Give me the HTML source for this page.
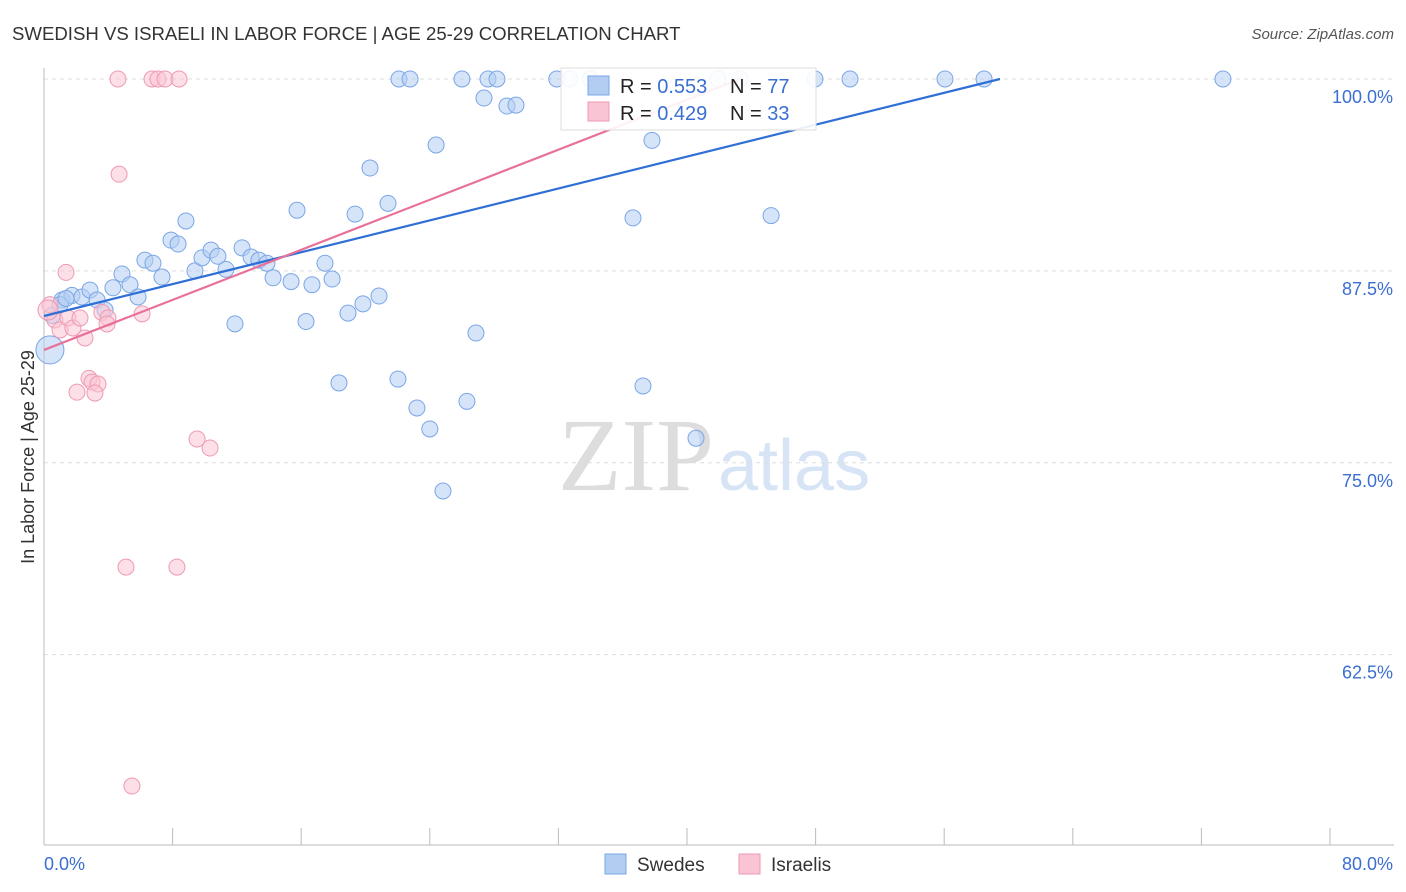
<!DOCTYPE html>
<html><head><meta charset="utf-8"><style>
body{margin:0;background:#fff;font-family:"Liberation Sans",sans-serif;}
svg{display:block}
</style></head><body>
<svg id="c" width="1406" height="892">
<text x="12" y="40" font-size="18.6" fill="#333">SWEDISH VS ISRAELI IN LABOR FORCE | AGE 25-29 CORRELATION CHART</text>
<text x="1394" y="39" font-size="15" fill="#555" font-style="italic" text-anchor="end">Source: ZipAtlas.com</text>
<text x="714" y="490" font-size="104" fill="#ddd" text-anchor="end" font-family="Liberation Serif,serif">ZIP</text>
<text x="718" y="490" font-size="72" fill="#d6e4f5">atlas</text>
<text transform="translate(34,457) rotate(-90)" font-size="18" fill="#333" text-anchor="middle">In Labor Force | Age 25-29</text>
<g id="grid"></g><g id="pts"></g><g id="lines"></g>
<g>
<rect x="561" y="68" width="255" height="62" fill="#fff" fill-opacity="0.9" stroke="#ddd"/>
<rect x="588" y="76" width="21" height="19" fill="#b3cdf2" stroke="#7aa6e6"/>
<rect x="588" y="102" width="21" height="19" fill="#f9c4d3" stroke="#ee9ab3"/>
<text x="620" y="93" font-size="20" fill="#222">R = <tspan fill="#3a6fd1">0.553</tspan></text>
<text x="730" y="93" font-size="20" fill="#222">N = <tspan fill="#3a6fd1">77</tspan></text>
<text x="620" y="120" font-size="20" fill="#222">R = <tspan fill="#3a6fd1">0.429</tspan></text>
<text x="730" y="120" font-size="20" fill="#222">N = <tspan fill="#3a6fd1">33</tspan></text>
</g>
<g>
<rect x="605" y="854" width="21" height="20" fill="#b3cdf2" stroke="#7aa6e6"/>
<text x="637" y="871" font-size="19" fill="#333">Swedes</text>
<rect x="739" y="854" width="21" height="20" fill="#f9c4d3" stroke="#ee9ab3"/>
<text x="771" y="871" font-size="19" fill="#333">Israelis</text>
</g>
</svg>
<script>
const yTicks=[100,87.5,75,62.5];
const yTickLabels=["100.0%","87.5%","75.0%","62.5%"];
const xTickLabels=["0.0%","80.0%"];
const swedesX=[0.37,0.5,1.12,1.74,2.36,2.86,3.3,3.8,4.29,4.85,5.35,5.85,6.28,6.78,7.34,7.9,8.34,8.83,9.39,9.83,10.39,10.82,11.32,11.88,12.32,12.88,13.37,13.87,14.25,15.37,15.74,16.3,16.67,17.48,17.92,18.35,18.91,19.35,19.84,20.28,20.84,21.4,22.02,22.08,22.77,23.2,24.0,24.39,24.82,26.0,26.31,26.87,27.37,27.62,28.18,28.8,29.36,31.9,32.7,33.97,36.64,37.26,37.82,40.56,41.93,43.3,45.23,47.96,50.14,56.05,58.48,73.34,1.0,1.37];
const swedesY=[82.35,84.6,85.6,85.9,85.8,86.25,85.6,84.95,86.4,87.3,86.6,85.8,88.2,88.0,87.1,89.5,89.25,90.75,87.5,88.35,88.85,88.45,87.6,84.05,89.0,88.4,88.2,88.0,87.05,86.8,91.45,84.2,86.6,88.0,86.97,80.2,84.75,91.2,85.35,94.2,85.86,91.9,80.45,100,100,78.57,77.2,95.7,73.16,100,79.0,83.45,98.76,100,100,98.24,98.3,100,100,100,90.95,80.0,96.0,76.6,100,100,91.1,100,100,100,100,100,85.3,85.7];
const israelisX=[4.6,6.72,7.09,7.53,8.4,4.67,1.37,0.37,0.68,1.0,1.49,1.8,2.24,2.55,3.6,3.98,3.92,6.1,2.05,2.8,2.99,3.36,3.17,9.52,10.33,5.1,8.27,5.47,0.25];
const israelisY=[100,100,100,100,100,93.8,87.4,85.3,84.3,83.65,84.43,83.78,84.43,83.13,84.8,84.43,84.04,84.7,79.6,80.5,80.26,80.13,79.54,76.55,75.96,68.2,68.2,53.94,84.95];
const trendIntercepts=[84.56,82.35];
const trendEnds=[59.47,43.3];
const NS='http://www.w3.org/2000/svg';
const X=v=>44+v*16.075, Y=v=>79+(100-v)*15.35;
function mk(t,a,p){const e=document.createElementNS(NS,t);for(const k in a)e.setAttribute(k,a[k]);p.appendChild(e);return e;}
const grid=document.getElementById('grid');
yTicks.forEach((t,i)=>{
 const l=mk('line',{x1:44,x2:1394,y1:Y(t),y2:Y(t),stroke:'#ddd','stroke-dasharray':'4,4'},grid);
 
 
 const tx=mk('text',{x:1393,y:Y(t)+24,'font-size':18,fill:'#3a6fd1','text-anchor':'end'},grid);tx.textContent=yTickLabels[i];
 
 
});
const ax=mk('line',{x1:44,x2:44,y1:68,y2:845,stroke:'#bbb'},grid);


const bx=mk('line',{x1:44,x2:1394,y1:845,y2:845,stroke:'#bbb'},grid);


for(let i=0;i<=10;i++){const t=mk('line',{x1:X(i*8),x2:X(i*8),y1:828,y2:845,stroke:'#bbb'},grid);
 
 }
[[0,'start'],[80,'end']].forEach((d,i)=>{const t=mk('text',{x:i?1393:44,y:870,'font-size':18,fill:'#3a6fd1','text-anchor':d[1]},grid);t.textContent=xTickLabels[i];
 
 });
const pts=document.getElementById('pts');
swedesX.forEach((x,i)=>{const c=mk('circle',{cx:X(x),cy:Y(swedesY[i]),r:i==0?14:8,fill:'#b3cdf2','fill-opacity':0.55,stroke:'#7aa6e6','stroke-width':1},pts);
 
 });
israelisX.forEach((x,i)=>{const c=mk('circle',{cx:X(x),cy:Y(israelisY[i]),r:i==28?10:8,fill:'#f9c4d3','fill-opacity':0.55,stroke:'#ee9ab3','stroke-width':1},pts);
 
 });
const ln=document.getElementById('lines');
['#2f6fd6','#e8719a'].forEach((col,i)=>{const l=mk('line',{x1:X(0),y1:Y(trendIntercepts[i]),x2:X(trendEnds[i]),y2:Y(100),stroke:col,'stroke-width':2.2},ln);
 
 });
</script>
</body></html>
